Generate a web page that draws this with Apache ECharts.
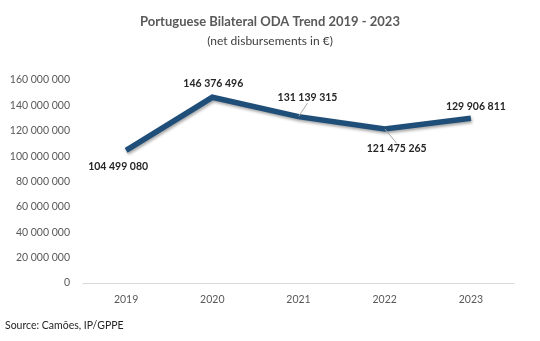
<!DOCTYPE html>
<html><head><meta charset="utf-8">
<script src="https://cdn.jsdelivr.net/npm/echarts@6/dist/echarts.min.js"></script>
<style>html,body{margin:0;padding:0;background:#fff}#c{width:540px;height:341px}</style>
</head><body><div id="c"></div>
<script>
var years = ['2019', '2020', '2021', '2022', '2023'];
var oda = [104499080, 146376496, 131139315, 121475265, 129906811];
var labelOffsets = [[-8, 30], [1, 0], [9, -5], [12, 34], [5, 2]];
var showLeader = [false, false, true, true, false];

function fmt(v) { return String(Math.round(v)).replace(/\B(?=(\d{3})+(?!\d))/g, ' '); }

var chart = echarts.init(document.getElementById('c'));
var FONT = 'Lato, "Open Sans", sans-serif';
chart.setOption({
  animation: false,
  title: {
    text: 'Portuguese Bilateral ODA Trend 2019 - 2023',
    subtext: '(net disbursements in €)',
    left: 'center', top: 10, itemGap: 7,
    textStyle: { fontFamily: FONT, fontSize: 13, fontWeight: 'bold', color: '#595959' },
    subtextStyle: { fontFamily: FONT, fontSize: 12, color: '#404040' }
  },
  grid: { left: 83, right: 26, top: 80, bottom: 58 },
  xAxis: {
    type: 'category', data: years, boundaryGap: true,
    axisLine: { lineStyle: { color: '#d9d9d9', width: 1 } },
    axisTick: { show: false },
    axisLabel: { color: '#595959', fontFamily: FONT, fontSize: 10.5, margin: 11 }
  },
  yAxis: {
    type: 'value', min: 0, max: 160000000, interval: 20000000,
    axisLine: { show: false }, axisTick: { show: false },
    splitLine: { show: false },
    axisLabel: { color: '#595959', fontFamily: FONT, fontSize: 10.5, margin: 13, formatter: fmt }
  },
  series: [{
    type: 'line',
    data: oda.map(function (v, i) {
      return { value: v, labelLine: { show: showLeader[i] } };
    }),
    symbol: 'circle', symbolSize: 1, showSymbol: true,
    itemStyle: { color: 'rgba(0,0,0,0)' },
    lineStyle: { color: '#1f4e79', width: 5.5, shadowColor: 'rgba(0,0,0,0.35)', shadowBlur: 3, shadowOffsetY: 2, shadowOffsetX: 1, cap: 'butt', join: 'miter' },
    label: {
      show: true, position: 'top', distance: 8,
      formatter: function (p) { return fmt(p.value); },
      fontFamily: FONT, fontSize: 10.5, fontWeight: 'bold', color: '#262626'
    },
    labelLine: { show: false, lineStyle: { color: '#a6a6a6', width: 1 } },
    labelLayout: function (params) {
      var o = labelOffsets[params.dataIndex];
      return { dx: o[0], dy: o[1] };
    }
  }],
  graphic: [{
    type: 'text', left: 5, top: 320,
    style: { text: 'Source: Camões, IP/GPPE', fontFamily: FONT, fontSize: 10.5, fill: '#262626' }
  }]
});
</script></body></html>
